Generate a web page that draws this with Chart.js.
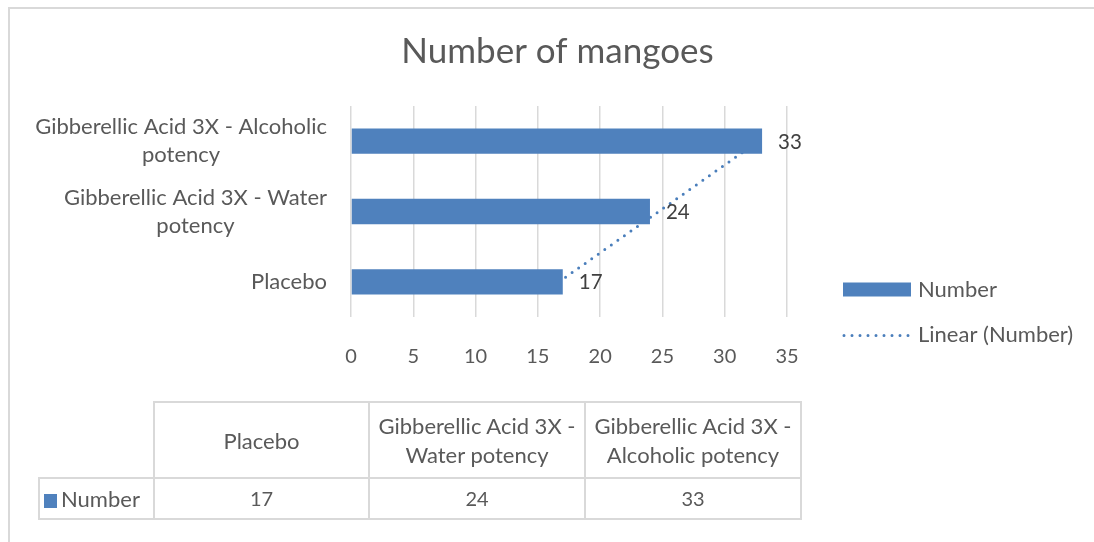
<!DOCTYPE html>
<html><head><meta charset="utf-8">
<script src="https://cdn.jsdelivr.net/npm/chart.js@4"></script>
<style>
html,body{margin:0;padding:0;background:#fff;overflow:hidden;width:1094px;height:542px;}
#frame{position:absolute;left:8px;top:7px;width:1200px;height:700px;border-left:2px solid #d9d9d9;border-top:2px solid #d9d9d9;}
#c{position:absolute;left:0;top:0;}
#tbl{position:absolute;left:38px;top:401px;border-collapse:collapse;table-layout:fixed;font-family:Lato,sans-serif;font-size:22px;color:#595959;}
#tbl td{border:2px solid #d9d9d9;text-align:center;padding:0;line-height:29px;}
#tbl td.num{font-size:20px;}
#tbl td.blank{border-top:none;border-left:none;}
#tbl td.key{text-align:left;padding-left:4px;}
.sw{display:inline-block;width:13px;height:14px;background:#4f81bd;margin-right:4px;vertical-align:-1px;}
</style></head>
<body>
<div id="frame"></div>
<canvas id="c" width="1115" height="542"></canvas>
<table id="tbl"></table>
<script>
const categories = ['Placebo', 'Gibberellic Acid 3X - Water potency', 'Gibberellic Acid 3X - Alcoholic potency'];
const axisLabelLines = [['Placebo'], ['Gibberellic Acid 3X - Water', 'potency'], ['Gibberellic Acid 3X - Alcoholic', 'potency']];
const tableHeaderLines = [['Placebo'], ['Gibberellic Acid 3X -', 'Water potency'], ['Gibberellic Acid 3X -', 'Alcoholic potency']];
const seriesName = 'Number';
const trendName = 'Linear (Number)';
const numberValues = [17, 24, 33];
const trendValues = [16.7, 24.7, 32.7];
const xMin = 0, xMax = 35, xStep = 5;
const chartTitle = 'Number of mangoes';

const BLUE = '#4f81bd';
const TEXT = '#595959';
const FONT = 'Lato, sans-serif';

// data table (HTML)
(function buildTable(){
  const t = document.getElementById('tbl');
  const colW = [115, 215, 216, 216];
  let html = '<colgroup>' + colW.map(w => '<col style="width:' + w + 'px">').join('') + '</colgroup>';
  html += '<tr style="height:76px"><td class="blank"></td>' + tableHeaderLines.map(l => '<td>' + l.join('<br>') + '</td>').join('') + '</tr>';
  html += '<tr style="height:41px"><td class="key"><span class="sw"></span>' + seriesName + '</td>' + numberValues.map(v => '<td class="num">' + v + '</td>').join('') + '</tr>';
  t.innerHTML = html;
})();

const titlePlugin = {
  id: 'centerTitle',
  afterDraw(chart) {
    const ctx = chart.ctx;
    ctx.save();
    ctx.font = '35px ' + FONT;
    ctx.fillStyle = TEXT;
    ctx.textAlign = 'center';
    ctx.textBaseline = 'middle';
    ctx.fillText(chartTitle, chart.width / 2, 52);
    ctx.restore();
  }
};

const yLabelPlugin = {
  id: 'yLabels',
  afterDraw(chart) {
    const ctx = chart.ctx, y = chart.scales.y;
    ctx.save();
    ctx.font = '22px ' + FONT;
    ctx.fillStyle = TEXT;
    ctx.textAlign = 'center';
    ctx.textBaseline = 'middle';
    const lh = 28;
    axisLabelLines.forEach((lines, i) => {
      const py = y.getPixelForValue(i);
      const maxW = Math.max(...lines.map(l => ctx.measureText(l).width));
      const cx = chart.chartArea.left - 24 - maxW / 2;
      const top = py - (lines.length - 1) * lh / 2;
      lines.forEach((l, k) => ctx.fillText(l, cx, top + k * lh));
    });
    ctx.restore();
  }
};

const valueLabelPlugin = {
  id: 'valueLabels',
  afterDatasetsDraw(chart) {
    const ctx = chart.ctx;
    const meta = chart.getDatasetMeta(0);
    ctx.save();
    ctx.font = '20.5px ' + FONT;
    ctx.fillStyle = '#404040';
    ctx.textAlign = 'left';
    ctx.textBaseline = 'middle';
    meta.data.forEach((el, i) => {
      ctx.fillText(String(chart.data.datasets[0].data[i]), el.x + 16, el.y + 1);
    });
    ctx.restore();
  }
};

const legendPlugin = {
  id: 'customLegend',
  afterDraw(chart) {
    const ctx = chart.ctx, ca = chart.chartArea;
    const x0 = ca.right + 56, x1 = x0 + 68, tx = x1 + 7;
    const midY = (ca.top + ca.bottom) / 2;
    const y1 = midY + 78, y2 = y1 + 45;
    ctx.save();
    ctx.fillStyle = chart.data.datasets[0].backgroundColor;
    ctx.fillRect(x0, y1 - 7, x1 - x0, 14);
    const ds = chart.data.datasets[1];
    ctx.strokeStyle = ds.borderColor;
    ctx.lineWidth = ds.borderWidth;
    ctx.lineCap = 'round';
    ctx.setLineDash(ds.borderDash);
    ctx.beginPath(); ctx.moveTo(x0 + 1, y2 + 1); ctx.lineTo(x1, y2 + 1); ctx.stroke();
    ctx.setLineDash([]);
    ctx.font = '22px ' + FONT;
    ctx.fillStyle = TEXT;
    ctx.textAlign = 'left';
    ctx.textBaseline = 'middle';
    ctx.fillText(chart.data.datasets[0].label, tx, y1);
    ctx.fillText(ds.label, tx, y2);
    ctx.restore();
  }
};

new Chart(document.getElementById('c'), {
  type: 'bar',
  data: {
    labels: categories,
    datasets: [
      { type: 'bar', label: seriesName, data: numberValues, backgroundColor: BLUE, borderWidth: 0,
        barPercentage: 0.36, categoryPercentage: 1, order: 1 },
      { type: 'line', label: trendName, data: trendValues, borderColor: '#4a7ebb', borderWidth: 3,
        borderDash: [0, 8], borderCapStyle: 'round', pointRadius: 0, fill: false, tension: 0, order: 2 }
    ]
  },
  options: {
    indexAxis: 'y',
    responsive: false,
    animation: false,
    events: [],
    layout: { padding: { left: 0, right: 328, top: 106, bottom: 165 } },
    plugins: {
      legend: { display: false },
      tooltip: { enabled: false },
      title: { display: false }
    },
    scales: {
      x: {
        min: xMin, max: xMax,
        ticks: { stepSize: xStep, color: TEXT, font: { family: FONT, size: 20 }, padding: 28 },
        grid: { color: '#d9d9d9', lineWidth: 1.5, drawTicks: false },
        border: { display: false },
        afterFit(s) { s.height = 60; }
      },
      y: {
        reverse: true,
        ticks: { display: false },
        grid: { display: false },
        border: { display: false },
        afterFit(s) { s.width = 351; }
      }
    }
  },
  plugins: [titlePlugin, yLabelPlugin, valueLabelPlugin, legendPlugin]
});
</script>
</body></html>
